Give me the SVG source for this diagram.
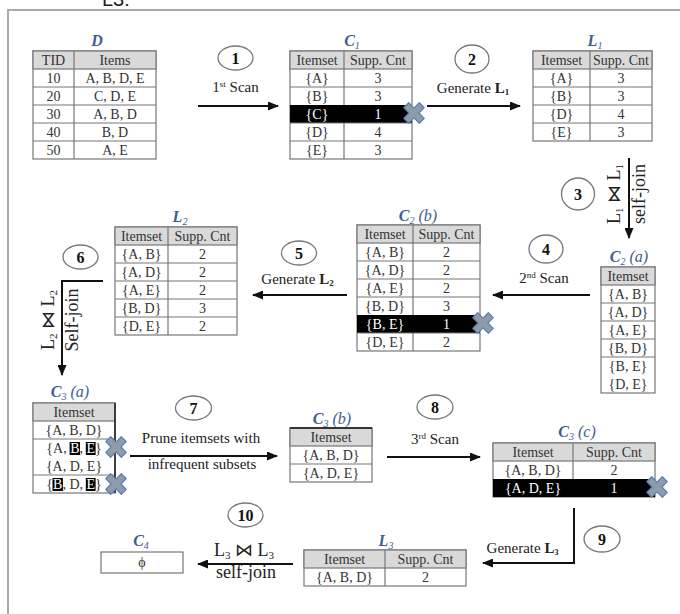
<svg xmlns="http://www.w3.org/2000/svg" width="680" height="614" viewBox="0 0 680 614">
<defs>
<style>
.t{font-family:"Liberation Serif","Times New Roman",serif;font-size:14px;fill:#333;text-anchor:middle}
.s{text-anchor:start}
.w{fill:#fff}
.ttl{font-family:"Liberation Serif","Times New Roman",serif;font-style:italic;font-size:16px;fill:#3e5d8e;text-anchor:middle}
.lbl{font-family:"Liberation Serif","Times New Roman","DejaVu Serif",serif;font-size:15px;fill:#222;text-anchor:middle}
.big{font-size:18px}
.num{font-family:"Liberation Serif","Times New Roman",serif;font-size:16px;font-weight:bold;fill:#111;text-anchor:middle}
.circ{fill:#fff;stroke:#777;stroke-width:1.3}
.box{fill:#fff;stroke:#777;stroke-width:1.2}
.hd{fill:#d9d9d9;stroke:#777;stroke-width:1.2}
.ln{stroke:#777;stroke-width:1.2;fill:none}
.dk{stroke:#333;stroke-width:1.8;fill:none}
.blk{fill:#000}
.conn{fill:none;stroke:#111;stroke-width:2}
.frame{fill:none;stroke:#aaa;stroke-width:2}
.xm{fill:#8e9baa;stroke:#5a7fb0;stroke-width:1.2;stroke-linejoin:round}
</style>
<marker id="ah" markerUnits="userSpaceOnUse" markerWidth="11" markerHeight="9" refX="10" refY="4.5" orient="auto"><path d="M0,0 L11,4.5 L0,9 z" fill="#111"/></marker>
<g id="xmark"><polygon class="xm" transform="rotate(45)" points="-3.5,-11 3.5,-11 3.5,-3.5 11,-3.5 11,3.5 3.5,3.5 3.5,11 -3.5,11 -3.5,3.5 -11,3.5 -11,-3.5 -3.5,-3.5"/></g>
</defs>

<rect width="680" height="614" fill="#fff"/>
<text x="102" y="6" font-family="Liberation Sans, Arial, sans-serif" font-size="20" fill="#222">L3:</text>
<path class="frame" d="M680,10 H8 V614"/>

<!-- Table D -->
<g id="D">
<text class="ttl" x="97" y="46" font-weight="bold" font-size="17">D</text>
<rect class="box" x="33" y="51" width="123" height="108"/>
<rect class="hd" x="33" y="51" width="123" height="18"/>
<path class="ln" d="M33,87 H156 M33,105 H156 M33,123 H156 M33,141 H156 M74,51 V159"/>
<text class="t" x="53.5" y="64.5">TID</text><text class="t" x="115" y="64.5">Items</text>
<text class="t" x="53.5" y="82.5">10</text><text class="t" x="115" y="82.5">A, B, D, E</text>
<text class="t" x="53.5" y="100.5">20</text><text class="t" x="115" y="100.5">C, D, E</text>
<text class="t" x="53.5" y="118.5">30</text><text class="t" x="115" y="118.5">A, B, D</text>
<text class="t" x="53.5" y="136.5">40</text><text class="t" x="115" y="136.5">B, D</text>
<text class="t" x="53.5" y="154.5">50</text><text class="t" x="115" y="154.5">A, E</text>
</g>

<!-- C1 -->
<g id="C1">
<text class="ttl" x="352" y="46"><tspan font-weight="bold">C</tspan><tspan font-size="10" dy="3">1</tspan></text>
<rect class="box" x="290" y="51" width="122" height="108"/>
<rect class="hd" x="290" y="51" width="122" height="18"/>
<rect class="blk" x="290" y="105" width="122" height="18"/>
<path class="ln" d="M290,87 H412 M290,123 H412 M290,141 H412 M344,51 V105 M344,123 V159"/>
<text class="t" x="317" y="64.5">Itemset</text><text class="t" x="378" y="64.5">Supp. Cnt</text>
<text class="t" x="317" y="82.5">{A}</text><text class="t" x="378" y="82.5">3</text>
<text class="t" x="317" y="100.5">{B}</text><text class="t" x="378" y="100.5">3</text>
<text class="t w" x="317" y="118.5">{C}</text><text class="t w" x="378" y="118.5">1</text>
<text class="t" x="317" y="136.5">{D}</text><text class="t" x="378" y="136.5">4</text>
<text class="t" x="317" y="154.5">{E}</text><text class="t" x="378" y="154.5">3</text>
<use href="#xmark" x="414" y="113"/>
</g>

<!-- L1 -->
<g id="L1">
<text class="ttl" x="595" y="46"><tspan font-weight="bold">L</tspan><tspan font-size="10" dy="3">1</tspan></text>
<rect class="box" x="533" y="51" width="119" height="90"/>
<rect class="hd" x="533" y="51" width="119" height="18"/>
<path class="ln" d="M533,87 H652 M533,105 H652 M533,123 H652 M590,51 V141"/>
<text class="t" x="561.5" y="64.5">Itemset</text><text class="t" x="621" y="64.5">Supp. Cnt</text>
<text class="t" x="561.5" y="82.5">{A}</text><text class="t" x="621" y="82.5">3</text>
<text class="t" x="561.5" y="100.5">{B}</text><text class="t" x="621" y="100.5">3</text>
<text class="t" x="561.5" y="118.5">{D}</text><text class="t" x="621" y="118.5">4</text>
<text class="t" x="561.5" y="136.5">{E}</text><text class="t" x="621" y="136.5">3</text>
</g>

<!-- C2 (a) -->
<g id="C2a">
<text class="ttl" x="629" y="262"><tspan font-weight="bold">C</tspan><tspan font-size="10" dy="3">2</tspan><tspan dy="-3"> (a)</tspan></text>
<rect class="box" x="601" y="267" width="54" height="126"/>
<rect class="hd" x="601" y="267" width="54" height="18"/>
<path class="ln" d="M601,303 H655 M601,321 H655 M601,339 H655 M601,357 H655"/>
<text class="t" x="628" y="280.5">Itemset</text>
<text class="t" x="628" y="298.5">{A, B}</text>
<text class="t" x="628" y="316.5">{A, D}</text>
<text class="t" x="628" y="334.5">{A, E}</text>
<text class="t" x="628" y="352.5">{B, D}</text>
<text class="t" x="628" y="370.5">{B, E}</text>
<text class="t" x="628" y="388.5">{D, E}</text>
</g>

<!-- C2 (b) -->
<g id="C2b">
<text class="ttl" x="418" y="221"><tspan font-weight="bold">C</tspan><tspan font-size="10" dy="3">2</tspan><tspan dy="-3"> (b)</tspan></text>
<rect class="box" x="357" y="225" width="123" height="126"/>
<rect class="hd" x="357" y="225" width="123" height="18"/>
<rect class="blk" x="357" y="315" width="123" height="18"/>
<path class="ln" d="M357,261 H480 M357,279 H480 M357,297 H480 M357,333 H480 M413,225 V315 M413,333 V351"/>
<text class="t" x="385" y="238.5">Itemset</text><text class="t" x="446.5" y="238.5">Supp. Cnt</text>
<text class="t" x="385" y="256.5">{A, B}</text><text class="t" x="446.5" y="256.5">2</text>
<text class="t" x="385" y="274.5">{A, D}</text><text class="t" x="446.5" y="274.5">2</text>
<text class="t" x="385" y="292.5">{A, E}</text><text class="t" x="446.5" y="292.5">2</text>
<text class="t" x="385" y="310.5">{B, D}</text><text class="t" x="446.5" y="310.5">3</text>
<text class="t w" x="385" y="328.5">{B, E}</text><text class="t w" x="446.5" y="328.5">1</text>
<text class="t" x="385" y="346.5">{D, E}</text><text class="t" x="446.5" y="346.5">2</text>
<use href="#xmark" x="483" y="323"/>
</g>

<!-- L2 -->
<g id="L2">
<text class="ttl" x="180" y="222"><tspan font-weight="bold">L</tspan><tspan font-size="10" dy="3">2</tspan></text>
<rect class="box" x="115" y="227" width="122" height="108"/>
<rect class="hd" x="115" y="227" width="122" height="18"/>
<path class="ln" d="M115,263 H237 M115,281 H237 M115,299 H237 M115,317 H237 M168,227 V335"/>
<text class="t" x="141.5" y="240.5">Itemset</text><text class="t" x="202.5" y="240.5">Supp. Cnt</text>
<text class="t" x="141.5" y="258.5">{A, B}</text><text class="t" x="202.5" y="258.5">2</text>
<text class="t" x="141.5" y="276.5">{A, D}</text><text class="t" x="202.5" y="276.5">2</text>
<text class="t" x="141.5" y="294.5">{A, E}</text><text class="t" x="202.5" y="294.5">2</text>
<text class="t" x="141.5" y="312.5">{B, D}</text><text class="t" x="202.5" y="312.5">3</text>
<text class="t" x="141.5" y="330.5">{D, E}</text><text class="t" x="202.5" y="330.5">2</text>
</g>

<!-- C3 (a) -->
<g id="C3a">
<text class="ttl" x="70" y="397"><tspan font-weight="bold">C</tspan><tspan font-size="10" dy="3">3</tspan><tspan dy="-3"> (a)</tspan></text>
<rect class="box" x="33" y="403" width="82" height="90"/>
<rect class="hd" x="33" y="403" width="82" height="18"/>
<path class="ln" d="M33,439 H115 M33,475 H115"/>
<path class="dk" d="M115,403 V493"/>
<rect class="blk" x="69.6" y="442" width="10.4" height="13"/>
<rect class="blk" x="85.8" y="442" width="9.8" height="13"/>
<rect class="blk" x="52.5" y="478" width="10.4" height="13"/>
<rect class="blk" x="85.8" y="478" width="9.8" height="13"/>
<text class="t" x="74" y="416.5">Itemset</text>
<text class="t" x="74" y="434.5">{A, B, D}</text>
<text class="t s" x="46.3" y="452.5">{A, <tspan class="w">B</tspan>, <tspan class="w">E</tspan>}</text>
<text class="t" x="74" y="470.5">{A, D, E}</text>
<text class="t s" x="46.3" y="488.5">{<tspan class="w">B</tspan>, D, <tspan class="w">E</tspan>}</text>
<use href="#xmark" x="116" y="447"/>
<use href="#xmark" x="116" y="484"/>
</g>

<!-- C3 (b) -->
<g id="C3b">
<text class="ttl" x="332" y="424"><tspan font-weight="bold">C</tspan><tspan font-size="10" dy="3">3</tspan><tspan dy="-3"> (b)</tspan></text>
<rect class="box" x="290" y="428" width="82" height="54"/>
<rect class="hd" x="290" y="428" width="82" height="18"/>
<path class="ln" d="M290,464 H372"/>
<path class="dk" d="M290,428 H372"/>
<text class="t" x="331" y="441.5">Itemset</text>
<text class="t" x="331" y="459.5">{A, B, D}</text>
<text class="t" x="331" y="477.5">{A, D, E}</text>
</g>

<!-- C3 (c) -->
<g id="C3c">
<text class="ttl" x="577" y="437"><tspan font-weight="bold">C</tspan><tspan font-size="10" dy="3">3</tspan><tspan dy="-3"> (c)</tspan></text>
<rect class="box" x="493" y="443" width="162" height="54"/>
<rect class="hd" x="493" y="443" width="162" height="18"/>
<rect class="blk" x="493" y="479" width="162" height="18"/>
<path class="ln" d="M573,443 V479"/>
<text class="t" x="533" y="456.5">Itemset</text><text class="t" x="614" y="456.5">Supp. Cnt</text>
<text class="t" x="533" y="474.5">{A, B, D}</text><text class="t" x="614" y="474.5">2</text>
<text class="t w" x="533" y="492.5">{A, D, E}</text><text class="t w" x="614" y="492.5">1</text>
<use href="#xmark" x="657" y="487"/>
</g>

<!-- L3 -->
<g id="L3">
<text class="ttl" x="386" y="546"><tspan font-weight="bold">L</tspan><tspan font-size="10" dy="3">3</tspan></text>
<rect class="box" x="304" y="550" width="162" height="36"/>
<rect class="hd" x="304" y="550" width="162" height="18"/>
<path class="ln" d="M385,550 V586"/>
<text class="t" x="344.5" y="563.5">Itemset</text><text class="t" x="425.5" y="563.5">Supp. Cnt</text>
<text class="t" x="344.5" y="581.5">{A, B, D}</text><text class="t" x="425.5" y="581.5">2</text>
</g>

<!-- C4 -->
<g id="C4">
<text class="ttl" x="141" y="546"><tspan font-weight="bold">C</tspan><tspan font-size="10" dy="3">4</tspan></text>
<rect class="box" x="101" y="552" width="82" height="21"/>
<text class="t" x="142" y="567">ϕ</text>
</g>

<!-- Connectors -->
<g id="connectors">
<path class="conn" d="M198,106 H278" marker-end="url(#ah)"/>
<path class="conn" d="M427,106 H520" marker-end="url(#ah)"/>
<path class="conn" d="M629,158 V238" marker-end="url(#ah)"/>
<path class="conn" d="M590,295 H493" marker-end="url(#ah)"/>
<path class="conn" d="M347,295 H253" marker-end="url(#ah)"/>
<path class="conn" d="M103,281 H62 V375" marker-end="url(#ah)"/>
<path class="conn" d="M130,456 H277" marker-end="url(#ah)"/>
<path class="conn" d="M387,457 H480" marker-end="url(#ah)"/>
<path class="conn" d="M574,508 V563 H483" marker-end="url(#ah)"/>
<path class="conn" d="M293,564 H198" marker-end="url(#ah)"/>
</g>

<!-- Step labels -->
<g id="s1"><ellipse class="circ" cx="235.5" cy="58" rx="17.5" ry="12"/><text class="num" x="235.5" y="63.5">1</text>
<text class="lbl" x="235.5" y="92">1<tspan font-size="9" dy="-5">st</tspan><tspan dy="5"> Scan</tspan></text></g>
<g id="s2"><ellipse class="circ" cx="472" cy="59" rx="17" ry="14"/><text class="num" x="472" y="64.5">2</text>
<text class="lbl" x="473" y="93">Generate <tspan font-weight="bold">L</tspan><tspan font-size="9" dy="2" font-weight="bold">1</tspan></text></g>
<g id="s3"><ellipse class="circ" cx="578" cy="194" rx="16.5" ry="16"/><text class="num" x="578" y="199.5">3</text>
<text class="lbl big" transform="translate(620,194) rotate(-90)">L<tspan font-size="11" dy="3">1</tspan><tspan dy="-3"> ⋈ L</tspan><tspan font-size="11" dy="3">1</tspan></text>
<text class="lbl big" transform="translate(645,194) rotate(-90)">self-join</text></g>
<g id="s4"><ellipse class="circ" cx="546" cy="249" rx="17" ry="14"/><text class="num" x="546" y="254.5">4</text>
<text class="lbl" x="544" y="283">2<tspan font-size="9" dy="-5">nd</tspan><tspan dy="5"> Scan</tspan></text></g>
<g id="s5"><ellipse class="circ" cx="299" cy="253" rx="17.5" ry="12"/><text class="num" x="299" y="258.5">5</text>
<text class="lbl" x="297.5" y="284">Generate <tspan font-weight="bold">L</tspan><tspan font-size="9" dy="2" font-weight="bold">2</tspan></text></g>
<g id="s6"><ellipse class="circ" cx="80.5" cy="257" rx="17.5" ry="12"/><text class="num" x="80.5" y="262.5">6</text>
<text class="lbl big" transform="translate(54,320) rotate(-90)">L<tspan font-size="11" dy="3">2</tspan><tspan dy="-3"> ⋈ L</tspan><tspan font-size="11" dy="3">2</tspan></text>
<text class="lbl big" transform="translate(78,320) rotate(-90)">Self-join</text></g>
<g id="s7"><ellipse class="circ" cx="193.5" cy="408" rx="18" ry="12"/><text class="num" x="193.5" y="413.5">7</text>
<text class="lbl" x="201" y="443">Prune itemsets with</text>
<text class="lbl" x="202" y="469">infrequent subsets</text></g>
<g id="s8"><ellipse class="circ" cx="435" cy="407" rx="18" ry="12"/><text class="num" x="435" y="412.5">8</text>
<text class="lbl" x="435" y="444">3<tspan font-size="9" dy="-5">rd</tspan><tspan dy="5"> Scan</tspan></text></g>
<g id="s9"><ellipse class="circ" cx="602" cy="539" rx="18" ry="13"/><text class="num" x="602" y="544.5">9</text>
<text class="lbl" x="522.5" y="553" font-size="13">Generate <tspan font-weight="bold">L</tspan><tspan font-size="8" dy="2" font-weight="bold">3</tspan></text></g>
<g id="s10"><ellipse class="circ" cx="245.5" cy="515" rx="17.5" ry="12"/><text class="num" x="245.5" y="520.5">10</text>
<text class="lbl big" x="244" y="556">L<tspan font-size="11" dy="3">3</tspan><tspan dy="-3"> ⋈ L</tspan><tspan font-size="11" dy="3">3</tspan></text>
<text class="lbl big" x="246" y="578">self-join</text></g>
</svg>
